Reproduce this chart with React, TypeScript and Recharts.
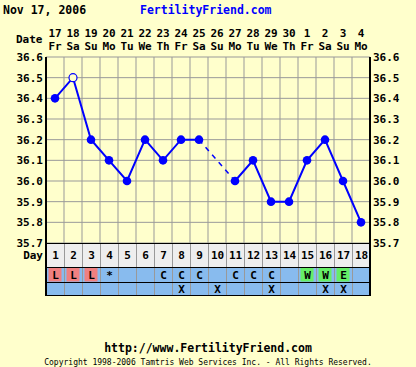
import {
  ComposedChart,
  BarChart,
  Bar,
  Line,
  XAxis,
  YAxis,
  CartesianGrid,
} from "recharts";

const days = [1, 2, 3, 4, 5, 6, 7, 8, 9, 10, 11, 12, 13, 14, 15, 16, 17, 18];
const dates = ["17", "18", "19", "20", "21", "22", "23", "24", "25", "26", "27", "28", "29", "30", "1", "2", "3", "4"];
const weekdays = ["Fr", "Sa", "Su", "Mo", "Tu", "We", "Th", "Fr", "Sa", "Su", "Mo", "Tu", "We", "Th", "Fr", "Sa", "Su", "Mo"];
const temps = [36.4, 36.5, 36.2, 36.1, 36.0, 36.2, 36.1, 36.2, 36.2, null, 36.0, 36.1, 35.9, 35.9, 36.1, 36.2, 36.0, 35.8];
const openDays = [2];
const cm = ["L", "L", "L", "*", "", "", "C", "C", "C", "", "C", "C", "C", "", "W", "W", "E", ""];
const bd = ["", "", "", "", "", "", "", "X", "", "X", "", "", "X", "", "", "X", "X", ""];
const tempTicks = [35.7, 35.8, 35.9, 36.0, 36.1, 36.2, 36.3, 36.4, 36.5, 36.6];

const BG = "#ffffcc";
const BLUE = "#0000ff";
const GRID = "#999999";
const FONT = "'DejaVu Sans Mono', monospace";
const CM_COLORS: Record<string, string> = { L: "#f08080", W: "#66ee66", E: "#66ee66" };

// dashed segment bridging a missing temperature
const bridge = temps.map((t, i) =>
  t !== null && (temps[i - 1] === null || temps[i + 1] === null) ? t : null
);

const tempRows = days.map((d, i) => ({
  day: d,
  temp: temps[i],
  bridge: bridge[i],
  open: openDays.includes(d),
}));

const gridTicks = [0.5, ...days.map((d) => d + 0.5)];

const tickStyle = { fontFamily: FONT, fontSize: 11, fontWeight: "bold", fill: "#000" };

function DateTick(props: any) {
  const { x, y, payload } = props;
  const i = payload.value - 1;
  return (
    <g>
      <text x={x} y={y - 24} textAnchor="middle" dominantBaseline="central" {...tickStyle}>
        {dates[i]}
      </text>
      <text x={x} y={y - 11} textAnchor="middle" dominantBaseline="central" {...tickStyle}>
        {weekdays[i]}
      </text>
    </g>
  );
}

function TempDot(props: any) {
  const { cx, cy, payload, index } = props;
  if (cx == null || cy == null || payload.temp == null) return <g key={`d${index}`} />;
  if (payload.open) {
    return <circle key={`d${index}`} cx={cx} cy={cy} r={4} fill={BG} stroke={BLUE} strokeWidth={1.2} />;
  }
  return <circle key={`d${index}`} cx={cx} cy={cy} r={4.3} fill={BLUE} />;
}

function CellShape(props: any) {
  const { x, y, width, height, payload } = props;
  const box = CM_COLORS[payload.text] && payload.boxed;
  return (
    <g>
      <rect x={x} y={y} width={width} height={height} fill={payload.bg} />
      {box && (
        <rect x={x + 2.5} y={y + 1} width={width - 5} height={height - 1.5} fill={CM_COLORS[payload.text]} />
      )}
      <line x1={x + 0.5} x2={x + 0.5} y1={y} y2={y + height} stroke={GRID} />
      <line x1={x + width + 0.5} x2={x + width + 0.5} y1={y} y2={y + height} stroke={GRID} />
      <line x1={x} x2={x + width} y1={y + 0.5} y2={y + 0.5} stroke="#000" />
      {payload.last && (
        <line x1={x} x2={x + width} y1={y + height - 0.5} y2={y + height - 0.5} stroke="#000" />
      )}
      <text
        x={x + width / 2 + 0.5}
        y={y + height / 2 + 0.5}
        textAnchor="middle"
        dominantBaseline="central"
        {...tickStyle}
      >
        {payload.text}
      </text>
    </g>
  );
}

function TableRow({
  name,
  height,
  cells,
  bg,
  boxed = false,
  last = false,
}: {
  name: string;
  height: number;
  cells: string[];
  bg: string;
  boxed?: boolean;
  last?: boolean;
}) {
  const rows = days.map((d, i) => ({ day: d, v: 1, text: cells[i], bg, boxed, last }));
  const axisProps = {
    yAxisId: "left",
    type: "number" as const,
    domain: [0, 1],
    ticks: [0.5],
    tickFormatter: () => name,
    width: 46,
    tickSize: 0,
    tickMargin: 3,
    tickLine: false,
    axisLine: { stroke: "#000", strokeWidth: 2 },
    tick: tickStyle,
  };
  return (
    <BarChart
      width={416}
      height={height}
      data={rows}
      margin={{ top: 0, right: 0, bottom: 0, left: 0 }}
      barCategoryGap={0}
      barGap={0}
    >
      <XAxis dataKey="day" type="category" hide />
      <YAxis {...axisProps} />
      <YAxis {...axisProps} yAxisId="right" orientation="right" />
      <Bar yAxisId="left" dataKey="v" shape={<CellShape />} isAnimationActive={false} />
    </BarChart>
  );
}

const textBase = {
  position: "absolute" as const,
  fontFamily: FONT,
  fontWeight: "bold" as const,
  whiteSpace: "nowrap" as const,
};

export default function App() {
  const yAxisProps = {
    type: "number" as const,
    domain: [35.7, 36.6],
    ticks: tempTicks,
    allowDataOverflow: true,
    width: 46,
    tickSize: 0,
    tickMargin: 3,
    tickLine: false,
    axisLine: { stroke: "#000", strokeWidth: 2 },
    tick: tickStyle,
    tickFormatter: (v: number) => v.toFixed(1),
    interval: 0 as const,
  };

  return (
    <div
      style={{
        position: "absolute",
        left: 0,
        top: 0,
        width: 416,
        height: 367,
        background: BG,
        overflow: "hidden",
      }}
    >
      <style>{`svg.recharts-surface { overflow: visible; }`}</style>
      <ComposedChart width={416} height={243} data={tempRows} margin={{ top: 0, right: 0, bottom: 0, left: 0 }}>
        <CartesianGrid xAxisId="grid" yAxisId="left" stroke={GRID} />
        <XAxis
          xAxisId="top"
          orientation="top"
          type="number"
          dataKey="day"
          domain={[0.5, 18.5]}
          ticks={days}
          interval={0}
          height={57}
          axisLine={false}
          tickLine={false}
          tickSize={0}
          tickMargin={0}
          tick={<DateTick />}
          allowDataOverflow
        />
        <XAxis
          xAxisId="grid"
          type="number"
          dataKey="day"
          domain={[0.5, 18.5]}
          ticks={gridTicks}
          interval={0}
          allowDataOverflow
          hide
        />
        <YAxis yAxisId="left" {...yAxisProps} />
        <YAxis yAxisId="right" orientation="right" {...yAxisProps} />
        <Line
          xAxisId="top"
          yAxisId="left"
          dataKey="bridge"
          connectNulls
          stroke={BLUE}
          strokeWidth={1.5}
          strokeDasharray="5 5"
          dot={false}
          activeDot={false}
          isAnimationActive={false}
        />
        <Line
          xAxisId="top"
          yAxisId="left"
          dataKey="temp"
          stroke={BLUE}
          strokeWidth={2}
          dot={TempDot}
          activeDot={false}
          isAnimationActive={false}
        />
      </ComposedChart>

      <TableRow name="Day" height={24} cells={dates.map((_, i) => String(days[i]))} bg="#eeeeee" />
      <TableRow name="CM" height={15} cells={cm} bg="#88bbee" boxed />
      <TableRow name="BD" height={14} cells={bd} bg="#88bbee" last />

      <div style={{ ...textBase, left: 3, top: 3, fontSize: 11.5, lineHeight: "14px" }}>Nov 17, 2006</div>
      <div style={{ ...textBase, left: 140, top: 3, fontSize: 11.5, lineHeight: "14px", color: BLUE }}>
        FertilityFriend.com
      </div>
      <div style={{ ...textBase, left: 16, top: 33, fontSize: 11, lineHeight: "14px" }}>Date</div>
      <div
        style={{
          ...textBase,
          left: 0,
          width: 416,
          textAlign: "center",
          top: 341,
          fontSize: 11.5,
          lineHeight: "14px",
        }}
      >
        http://www.FertilityFriend.com
      </div>
      <div
        style={{
          ...textBase,
          fontWeight: "normal",
          left: 0,
          width: 416,
          textAlign: "center",
          top: 358,
          fontSize: 8,
          lineHeight: "10px",
        }}
      >
        Copyright 1998-2006 Tamtris Web Services Inc. - All Rights Reserved.
      </div>
    </div>
  );
}
